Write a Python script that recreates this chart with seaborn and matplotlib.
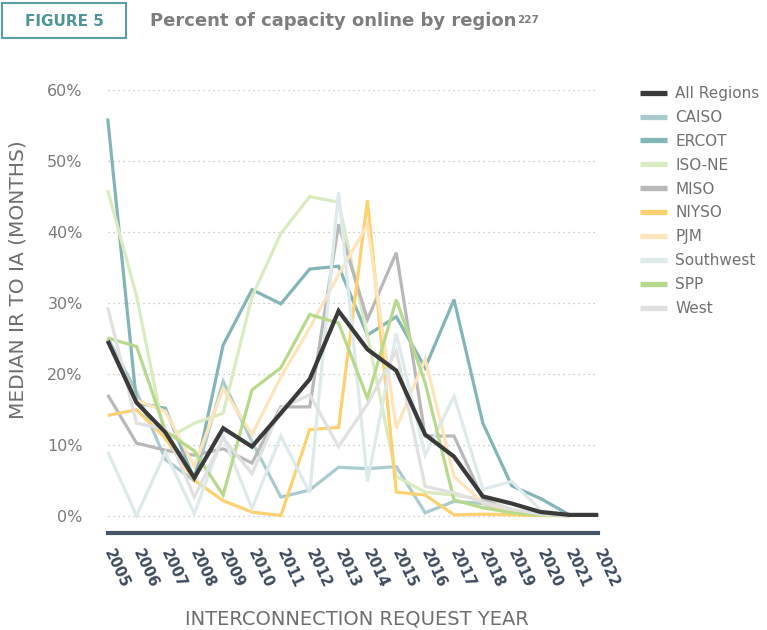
import numpy as np
import pandas as pd
import matplotlib
matplotlib.use("Agg")
import matplotlib.pyplot as plt
import seaborn as sns
from matplotlib.patches import Rectangle

nan = np.nan
years = list(range(2005, 2023))
year_labels = [str(y) for y in years]

all_regions = [24.7, 16.0, 11.8, 5.4, 12.4, 9.8, 14.5, 19.3, 28.9, 23.5, 20.5, 11.5, 8.4, 2.8, 1.8, 0.6, 0.2, 0.2]
caiso = [25.1, 17.5, 8.0, 5.0, 19.0, 10.5, 2.7, 3.7, 6.9, 6.7, 7.0, 0.5, 2.1, 1.8, 0.4, 0.2, 0.1, nan]
ercot = [56.0, 16.0, 15.2, 5.2, 24.1, 31.9, 29.9, 34.8, 35.2, 25.5, 28.1, 20.9, 30.5, 13.1, 4.3, 2.5, 0.2, nan]
iso_ne = [45.9, 31.0, 10.8, 13.1, 14.5, 30.9, 39.8, 45.0, 44.2, 25.5, 5.6, 3.4, 3.0, 2.4, 1.0, 0.2, 0.1, nan]
miso = [17.1, 10.3, 9.3, 8.6, 9.5, 7.5, 15.4, 15.4, 41.1, 27.7, 37.1, 11.3, 11.3, 2.5, 0.5, 0.2, 0.1, nan]
niyso = [14.2, 15.0, 11.0, 5.1, 2.2, 0.6, 0.1, 12.2, 12.5, 44.5, 3.4, 3.0, 0.2, 0.3, 0.2, 0.1, 0.1, nan]
pjm = [24.8, 16.3, 14.8, 7.0, 18.0, 11.5, 19.6, 26.5, 34.0, 41.0, 12.4, 22.1, 5.6, 1.9, 0.7, 0.2, 0.1, nan]
southwest = [9.1, 0.1, 9.0, 0.4, 11.3, 1.1, 11.3, 3.3, 45.6, 4.9, 25.7, 8.6, 16.9, 3.8, 4.9, 0.9, 0.1, nan]
spp = [25.1, 23.9, 12.0, 9.2, 3.0, 17.8, 20.9, 28.4, 27.2, 16.6, 30.5, 18.8, 2.3, 1.2, 0.5, 0.2, 0.1, nan]
west = [29.4, 13.1, 12.3, 2.7, 11.0, 6.0, 15.2, 17.1, 9.8, 15.8, 23.3, 4.2, 3.3, 2.0, 1.0, 0.3, 0.1, nan]

regions = ["All Regions", "CAISO", "ERCOT", "ISO-NE", "MISO", "NIYSO", "PJM", "Southwest", "SPP", "West"]
series = [all_regions, caiso, ercot, iso_ne, miso, niyso, pjm, southwest, spp, west]
colors = ["#3a3a3a", "#a9cbce", "#82b5b8", "#d9ebbf", "#b8b8b8", "#fdd070", "#fde4bb", "#dde9ea", "#b7d98c", "#e0e0e0"]
palette = dict(zip(regions, colors))

y_ticks = [0, 10, 20, 30, 40, 50, 60]
y_tick_labels = ["0%", "10%", "20%", "30%", "40%", "50%", "60%"]

rows = []
for name, vals in zip(regions, series):
    for yr, v in zip(years, vals):
        rows.append({"year": yr, "value": v, "region": name})
df = pd.DataFrame(rows)

sns.set_theme(style="white")
plt.rcParams["font.family"] = ["DejaVu Sans"]

fig = plt.figure(figsize=(7.67, 6.30), dpi=100)
ax = fig.add_axes([107.7 / 767, 97 / 630, (598.3 - 107.7) / 767, (533 - 90) / 630])

sns.lineplot(data=df, x="year", y="value", hue="region", hue_order=regions,
             palette=palette, linewidth=2.3, ax=ax, legend=True, sort=False)

for ln in ax.lines:
    ln.set_solid_capstyle("butt")
    ln.set_solid_joinstyle("miter")
    ln.set_clip_on(False)
main = ax.lines[0]
main.set_linewidth(3.0)
main.set_zorder(10)

ax.set_xlim(2005, 2022)
ax.set_ylim(-2.35, 60)
ax.set_yticks(y_ticks)
ax.set_yticklabels(y_tick_labels, color="#7a7a7a", fontsize=11.5)
ax.set_xticks(years)
ax.set_xticklabels(year_labels, rotation=-65, ha="left", va="center",
                   rotation_mode="anchor", fontsize=10.5, fontweight="bold", color="#3d4a5c")
ax.tick_params(axis="x", length=0, pad=12)
ax.tick_params(axis="y", length=0, pad=18)
for yv in y_ticks:
    ax.axhline(yv, color="#bdbdbd", linestyle=(0, (1, 3)), linewidth=0.9, zorder=0)

for s in ["top", "right", "left"]:
    ax.spines[s].set_visible(False)
ax.spines["bottom"].set_color("#475569")
ax.spines["bottom"].set_linewidth(3.0)

ax.set_xlabel("")
ax.set_ylabel("")
fig.text(357 / 767, 1 - 619 / 630, "INTERCONNECTION REQUEST YEAR", ha="center", va="center",
         fontsize=14, color="#6e6e6e")
fig.text(18 / 767, 1 - 280 / 630, "MEDIAN IR TO IA (MONTHS)", ha="center", va="center",
         rotation=90, fontsize=14.5, color="#6e6e6e")

handles, labels = ax.get_legend_handles_labels()
leg = ax.legend(handles, labels, loc="upper left", bbox_to_anchor=(634 / 767, 1 - 80 / 630),
                bbox_transform=fig.transFigure, frameon=False, fontsize=11,
                handlelength=1.77, handletextpad=0.52, labelspacing=0.58, borderaxespad=0)
for h in leg.get_lines():
    h.set_linewidth(3.8)
    h.set_solid_capstyle("butt")
for t in leg.get_texts():
    t.set_color("#707070")

fig.patches.append(Rectangle((2 / 767, 1 - 38 / 630), 124 / 767, 35 / 630, transform=fig.transFigure,
                             fill=False, edgecolor="#5c9fa1", linewidth=1.5))
fig.text(64 / 767, 1 - 21 / 630, "FIGURE 5", ha="center", va="center", fontsize=11,
         fontweight="bold", color="#4f9597")
title = fig.text(150 / 767, 1 - 21 / 630, "Percent of capacity online by region", ha="left",
                 va="center", fontsize=13, fontweight="bold", color="#7d7d7d")
fig.canvas.draw()
bb = title.get_window_extent()
fig.text(bb.x1 / fig.bbox.width + 0.001, (bb.y1 - 3) / fig.bbox.height, "227", ha="left", va="top",
         fontsize=7.5, fontweight="bold", color="#7d7d7d")

fig.savefig("out.png", dpi=100)
